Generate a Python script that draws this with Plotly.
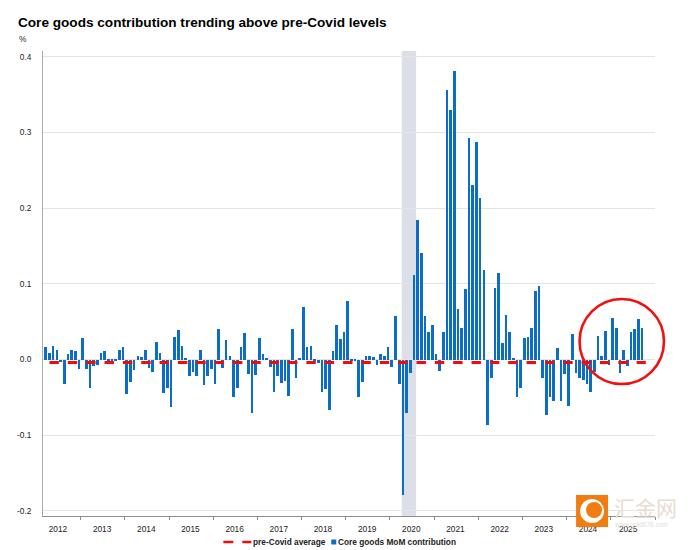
import plotly.graph_objects as go

# monthly values, Mar 2012 - Sep 2025
core_goods = [
    .017, .009, .018, .013, -.003, -.033, .007, .013, .011, -.012,
    .028, -.012, -.038, -.009, -.007, .008, .011, -.001, -.001, -.002,
    .012, .017, -.046, -.030, -.014, .005, .003, .012, -.011, -.016,
    .023, .009, -.044, -.037, -.063, .030, .039, .018, .002, -.022,
    -.017, -.022, .013, -.034, -.022, -.013, -.033, .040,
    -.011, .026, .004, -.049, -.037, .016, .035, -.019, -.071, -.021,
    .028, .007, .001, -.010, -.043, -.022, -.031, -.029, -.048, .040,
    -.024, .001, .069, .016, .018, -.002, -.004, -.043, -.039, -.067,
    .011, .045, .027, .036, .077, -.001, -.002, -.049, -.030, .004,
    .004, .003, -.007, .007, .004, .016,
    -.010, .057, -.032, -.179, -.071, -.018, .111, .184, .141, .058,
    .037, .046, .007, -.015, .037, .356, .329, .381, .067, .041,
    .093, .292, .231, .287, .213, .118, -.086, -.025, .094, .114,
    .022, .059, .037, .001, -.050, -.037, .028, .030, .042, .091,
    .097, -.024, -.073, -.050, -.055, .015, -.055, -.019, -.061, .034,
    -.018, -.024, -.027, -.032, -.043, -.016, .031, .004, .038, -.007,
    .055, .042, -.018, .012, -.008, .037, .040, .053, .042,
]
pre_covid_avg = -0.004
first_month = 2  # months counted from Jan 2012
years = ['2012', '2013', '2014', '2015', '2016', '2017', '2018',
         '2019', '2020', '2021', '2022', '2023', '2024', '2025']
year_label_pos = [5.8, 17.8, 29.8, 41.8, 53.8, 65.8, 77.8,
                  89.8, 101.8, 113.8, 125.8, 137.8, 149.8, 160.7]
year_edges = list(range(12, 169, 12))
covid_band = [99.2, 103.1]

L, R, T, B = 42.5, 655, 51, 516
RED = '#f50a0a'
BLUE = '#0a6ec8'


def px_x(p):
    return (p - L) / (R - L)


def px_y(p):
    return (B - p) / (B - T)


def page_text(text, x, y, size, color='#222', family='Liberation Sans', anchor='left'):
    return dict(text=text, xref='paper', yref='paper', x=px_x(x), y=px_y(y),
                xanchor=anchor, yanchor='middle', showarrow=False,
                borderpad=0, borderwidth=0,
                font=dict(family=family, size=size, color=color))


bar_x = [first_month + i + 0.5 for i in range(len(core_goods))]
line_x = [x + 1 for x in bar_x]

fig = go.Figure()
fig.add_bar(x=bar_x, y=core_goods, name='Core goods MoM contribution',
            width=0.72, marker=dict(color=BLUE, line_width=0))
fig.add_scatter(x=line_x, y=[pre_covid_avg] * len(line_x), mode='lines',
                name='pre-Covid average',
                line=dict(color=RED, width=3, dash='9.4px,8.95px'))

shapes = [
    dict(type='rect', layer='below', xref='x', yref='paper',
         x0=covid_band[0], x1=covid_band[1], y0=0, y1=1,
         fillcolor='#dcdfe7', line_width=0),
    dict(type='circle', xref='paper', yref='paper',
         x0=px_x(579.5), x1=px_x(664), y0=px_y(384), y1=px_y(299),
         line=dict(color='#f01010', width=2.6)),
    # legend keys
    dict(type='line', xref='paper', yref='paper',
         x0=px_x(223), x1=px_x(233), y0=px_y(542), y1=px_y(542),
         line=dict(color=RED, width=2.5)),
    dict(type='line', xref='paper', yref='paper',
         x0=px_x(242), x1=px_x(251), y0=px_y(542), y1=px_y(542),
         line=dict(color=RED, width=2.5)),
    dict(type='rect', xref='paper', yref='paper',
         x0=px_x(331), x1=px_x(336), y0=px_y(544.5), y1=px_y(539.5),
         fillcolor=BLUE, line_width=0),
    # watermark logo
    dict(type='rect', xref='paper', yref='paper',
         x0=px_x(576), x1=px_x(608), y0=px_y(527), y1=px_y(495),
         fillcolor='#f07c12', line_width=0),
    dict(type='circle', xref='paper', yref='paper',
         x0=px_x(580), x1=px_x(604), y0=px_y(523), y1=px_y(499),
         fillcolor='white', line_width=0),
    dict(type='circle', xref='paper', yref='paper',
         x0=px_x(586), x1=px_x(602), y0=px_y(518), y1=px_y(502),
         fillcolor='#f07c12', line_width=0),
]

annotations = [
    page_text('<b>Core goods contribution trending above pre-Covid levels</b>',
              17, 22, 13.6, color='black'),
    page_text('%', 18, 39, 8.3),
    page_text('<b>pre-Covid average</b>', 253, 542, 8.3),
    page_text('<b>Core goods MoM contribution</b>', 338, 542, 8.3),
    page_text('汇金网', 614, 507, 21, color='#e8dcd2', family='Noto Sans CJK SC'),
    page_text('www.gold678.com', 614, 525, 6.5, color='#e4dcd6'),
]

fig.update_layout(
    width=696, height=550, margin=dict(l=L, r=696 - R, t=T, b=550 - B),
    paper_bgcolor='white', plot_bgcolor='white', bargap=0, showlegend=False,
    font=dict(family='Liberation Sans', size=8.3, color='#222'),
    shapes=shapes, annotations=annotations,
)
fig.update_xaxes(
    range=[1.74, 168], showgrid=False, zeroline=False,
    tickmode='array', tickvals=year_label_pos, ticktext=years, ticks='',
    showline=True, linecolor='#8c8c8c', linewidth=1,
    minor=dict(tickmode='array', tickvals=year_edges, ticks='outside',
               ticklen=3, tickcolor='#8c8c8c', showgrid=False),
    tickfont=dict(size=8.3, color='#222'), ticklabelstandoff=5,
)
fig.update_yaxes(
    range=[-0.2067, 0.4075], tickmode='array',
    tickvals=[-0.2, -0.1, 0.0, 0.1, 0.2, 0.3, 0.4],
    ticktext=['-0.2', '-0.1', '0.0', '0.1', '0.2', '0.3', '0.4'],
    showgrid=True, gridcolor='#e4e4e4', gridwidth=1,
    zeroline=True, zerolinecolor='#e4e4e4', zerolinewidth=1,
    showline=True, linecolor='#aaaaaa', linewidth=1, ticks='',
    tickfont=dict(size=8.3, color='#222'), ticklabelstandoff=9,
)

fig.write_html("out.html", config={'displayModeBar': False},
               post_script="document.body.style.margin='0';")
